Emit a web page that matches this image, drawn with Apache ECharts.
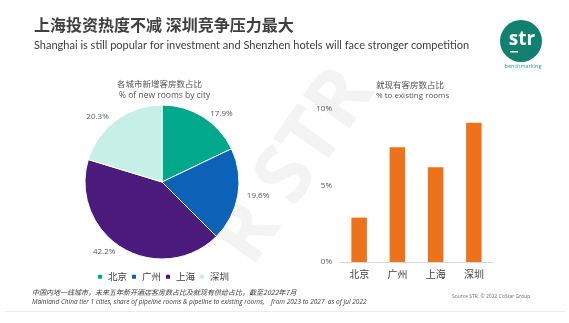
<!DOCTYPE html>
<html><head><meta charset="utf-8">
<script src="https://cdn.jsdelivr.net/npm/echarts@6/dist/echarts.min.js"></script>
<style>html,body{margin:0;padding:0;background:#fff}#c{width:569px;height:323px}</style>
</head><body><div id="c"></div>
<script>
var cities = ['北京', '广州', '上海', '深圳'];
var newRoomShare = [17.9, 19.6, 42.2, 20.3];
var existingRatio = [2.9, 7.5, 6.2, 9.1];
var yTicks = [0, 5, 10];
var pieColors = ['#02a88a', '#0b62b6', '#4a1a7d', '#c6efe8'];

var chart = echarts.init(document.getElementById('c'), null, {renderer: 'canvas'});
var cjk = '"Noto Sans CJK SC", "Noto Sans", sans-serif';
var lat = '"Open Sans", "Noto Sans", sans-serif';
var lato = 'Lato, "Open Sans", sans-serif';
chart.setOption({
  animation: false,
  backgroundColor: '#fff',
  color: pieColors,
  graphic: [
    {type: 'text', left: 200, top: 55, z: -10, rotation: 55 * Math.PI / 180,
     style: {text: 'R STR', font: 'bold 80px ' + lat, fill: '#f3f3f3'}},
    {type: 'text', left: 34, top: 17, style: {text: '上海投资热度不减 深圳竞争压力最大', font: 'bold 16px ' + cjk, fill: '#404040'}},
    {type: 'text', left: 34, top: 40, style: {text: 'Shanghai is still popular for investment and Shenzhen hotels will face stronger competition', font: '11px ' + lato, fill: '#404040'}},
    {type: 'circle', shape: {cx: 521, cy: 41, r: 21}, style: {fill: '#12806f'}},
    {type: 'text', x: 522, y: 40, style: {text: 'str', font: 'bold 19px ' + lat, fill: '#fff', align: 'center', verticalAlign: 'middle'}},
    {type: 'rect', shape: {x: 510, y: 51, width: 8, height: 1.5}, style: {fill: '#fff'}},
    {type: 'text', x: 523, y: 66, style: {text: 'benchmarking', font: '5.5px ' + lat, fill: '#2a9d8f', align: 'center', verticalAlign: 'middle'}},
    {type: 'text', x: 117, y: 84, style: {text: '各城市新增客房数占比', font: '8.5px ' + cjk, fill: '#555', verticalAlign: 'middle'}},
    {type: 'text', x: 119, y: 96, style: {text: '% of new rooms by city', font: '8.5px ' + lat, fill: '#555', verticalAlign: 'middle'}},
    {type: 'text', x: 376, y: 85, style: {text: '就现有客房数占比', font: '8.5px ' + cjk, fill: '#555', verticalAlign: 'middle'}},
    {type: 'text', x: 376, y: 96, style: {text: '% to existing rooms', font: '8px ' + lat, fill: '#555', verticalAlign: 'middle'}},
    {type: 'text', x: 32, y: 292, style: {text: '中国内地一线城市，未来五年新开酒店客房数占比及就现有供给占比，截至2022年7月', font: 'italic 7px ' + cjk, fill: '#404040', verticalAlign: 'middle'}},
    {type: 'text', x: 32, y: 302, style: {text: 'Mainland China tier 1 cities, share of pipeline rooms & pipeline to existing rooms,    from 2023 to 2027  as of Jul 2022', font: 'italic 6.5px ' + lat, fill: '#404040', verticalAlign: 'middle'}},
    {type: 'text', x: 452, y: 297, style: {text: 'Source STR. © 2022 CoStar Group', font: '5px ' + lat, fill: '#707070', verticalAlign: 'middle'}},
    {type: 'rect', shape: {x: 5, y: 311, width: 560, height: 1}, style: {fill: '#ececec'}}
  ],
  legend: {
    data: cities, left: 91, top: 267, itemWidth: 6, itemHeight: 6, itemGap: 3, icon: 'rect',
    textStyle: {fontFamily: cjk, fontSize: 9.5, color: '#404040'}
  },
  grid: {left: 340, right: 76, top: 109, bottom: 61},
  xAxis: {
    type: 'category', data: cities,
    axisLine: {lineStyle: {color: '#d9d9d9'}}, axisTick: {show: false},
    axisLabel: {fontFamily: cjk, fontSize: 10, color: '#404040', margin: 7}
  },
  yAxis: {
    type: 'value', min: 0, max: 10, interval: 5,
    splitLine: {show: false}, axisLine: {show: false}, axisTick: {show: false},
    axisLabel: {formatter: '{value}%', fontFamily: lat, fontSize: 8, color: '#595959', margin: 8}
  },
  series: [
    {type: 'pie', center: [162, 182], radius: 77, startAngle: 90,
     data: cities.map(function (c, i) { return {name: c, value: newRoomShare[i]}; }),
     itemStyle: {borderColor: '#fff', borderWidth: 1},
     label: {show: true, position: 'outside', formatter: function (p) { return p.value.toFixed(1) + '%'; },
             fontFamily: lat, fontSize: 8, color: '#595959'},
     labelLine: {show: false, length: 4, length2: 0}},
    {type: 'bar', data: existingRatio, barWidth: 15.5, itemStyle: {color: '#ee7219'}}
  ]
});
</script></body></html>
